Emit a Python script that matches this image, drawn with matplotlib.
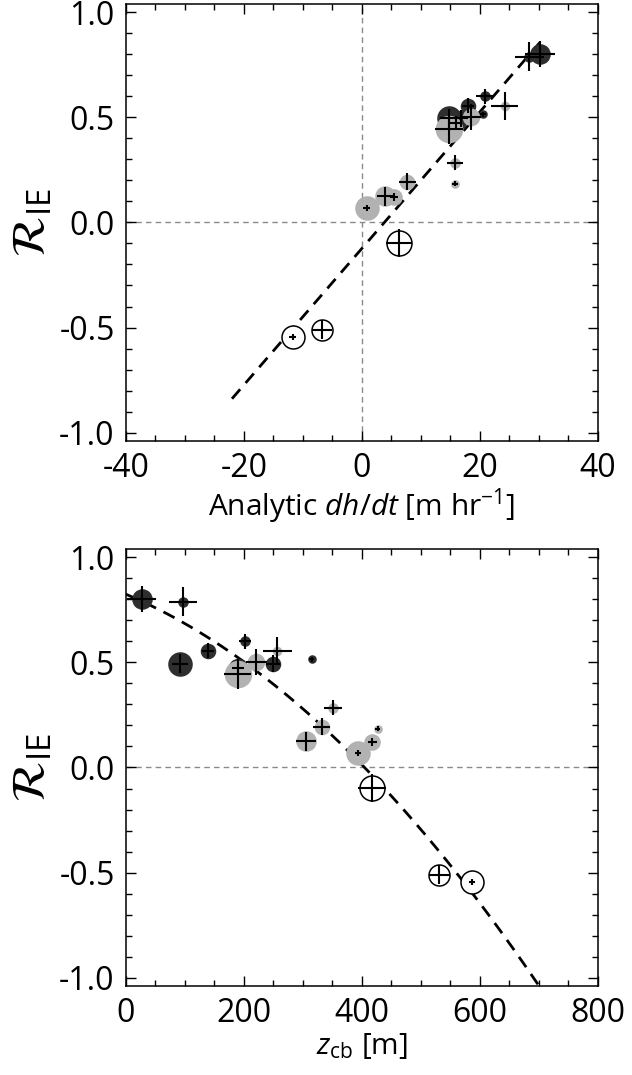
import numpy as np
import matplotlib.pyplot as plt
from matplotlib.ticker import MultipleLocator

plt.rcParams['font.family'] = ['Open Sans', 'DejaVu Sans']
plt.rcParams['mathtext.fontset'] = 'custom'
plt.rcParams['mathtext.rm'] = 'Open Sans'
plt.rcParams['mathtext.it'] = 'Open Sans:italic'
plt.rcParams['mathtext.bf'] = 'Open Sans:bold'
plt.rcParams['axes.unicode_minus'] = False

# one entry per case; group 0 = dark, 1 = grey, 2 = open
case_group = [0, 0, 0, 0, 0, 0, 0, 0,
              1, 1, 1, 1, 1, 1, 1, 1, 1,
              2, 2, 2]
r_ie = [0.80, 0.79, 0.60, 0.515, 0.555, 0.495, 0.495, 0.475,
        0.555, 0.50, 0.445, 0.285, 0.185, 0.195, 0.125, 0.12, 0.07,
        -0.097, -0.51, -0.545]
r_ie_err = [0.062, 0.067, 0.036, 0.012, 0.036, 0.046, 0.041, 0.031,
            0.067, 0.062, 0.07, 0.036, 0.012, 0.041, 0.046, 0.02, 0.015,
            0.067, 0.046, 0.015]
dhdt = [30.2, 28.4, 20.8, 20.5, 18.0, 14.7, 16.8, 16.0,
        24.2, 18.5, 14.8, 15.8, 15.8, 7.7, 4.0, 5.5, 0.8,
        6.3, -6.8, -11.7]
dhdt_err = [2.5, 2.5, 1.4, 0.5, 1.0, 1.5, 1.2, 1.0,
            2.3, 1.7, 2.4, 1.3, 0.5, 1.4, 1.5, 0.7, 0.6,
            2.2, 1.7, 0.6]
zcb = [27, 97, 202, 315, 139, 92, 250, 190,
       257, 221, 190, 351, 427, 332, 306, 418, 393,
       417, 531, 587]
zcb_err = [25, 24, 10, 4, 10, 14, 12, 10,
           25, 18, 23, 15, 4, 14, 17, 7, 5,
           24, 18, 5]

# fitted relations (polynomial coefficients, highest power first)
fit_dhdt = [0.0325, -0.124]
fit_dhdt_range = [-22, 31]
fit_zcb = [-2.11e-6, -1.185e-3, 0.825]
fit_zcb_range = [0, 720]

# marker diameters in pixels
marker_px = [19, 9, 9, 7, 14, 23, 14, 18,
             8, 16, 26, 9, 7, 14, 19, 15, 23,
             25, 21, 23]

face = {0: '#2e2e2e', 1: '#b2b2b2', 2: 'white'}
edge = {0: '#2e2e2e', 1: '#b2b2b2', 2: 'black'}

fig = plt.figure(figsize=(6.32, 10.75), dpi=100)
ax_top = fig.add_axes([0.199, 0.5898, 0.747, 0.4065])
ax_bot = fig.add_axes([0.199, 0.0828, 0.747, 0.4065])


def draw_panel(ax, xval, xerr, fit, fit_range):
    #zero lines
    ax.axhline(0, color='#8a8a8a', lw=1.0, dashes=(4, 3), zorder=1)
    #fit line
    xf = np.linspace(fit_range[0], fit_range[1], 200)
    ax.plot(xf, np.polyval(fit, xf), color='black', lw=2.0, dashes=(4.5, 3), zorder=2)
    #circles: dark first, then grey, then open
    for g in [0, 1, 2]:
        for i in range(len(r_ie)):
            if case_group[i] != g:
                continue
            ax.plot(xval[i], r_ie[i], 'o', ms=marker_px[i] * 0.72,
                    mfc=face[g], mec=edge[g], mew=1.1, zorder=3 + g)
    #error crosses on top
    ax.errorbar(xval, r_ie, xerr=xerr, yerr=r_ie_err, fmt='none',
                ecolor='black', elinewidth=1.5, capsize=0, zorder=10)
    ax.set_ylim(-1.04, 1.04)
    ax.yaxis.set_major_locator(MultipleLocator(0.5))
    ax.yaxis.set_minor_locator(MultipleLocator(0.1))
    ax.yaxis.set_major_formatter(plt.FuncFormatter(lambda v, p: '%.1f' % v))
    ax.tick_params(which='both', direction='in', top=True, right=True,
                   labelsize=23, width=1.0)
    ax.tick_params(which='major', length=7, pad=8)
    ax.tick_params(which='minor', length=4)
    for s in ax.spines.values():
        s.set_linewidth(1.1)
    ax.set_ylabel(r'$\mathcal{R}_{\mathregular{IE}}$', math_fontfamily='stix',
                  fontsize=34, labelpad=2)


#top panel: analytic growth rate
draw_panel(ax_top, dhdt, dhdt_err, fit_dhdt, fit_dhdt_range)
ax_top.axvline(0, color='#8a8a8a', lw=1.0, dashes=(4, 3), zorder=1)
ax_top.set_xlim(-40, 40)
ax_top.xaxis.set_major_locator(MultipleLocator(20))
ax_top.xaxis.set_minor_locator(MultipleLocator(5))
ax_top.set_xlabel(r'Analytic $dh/dt$ [m hr$^{\mathregular{-1}}$]', fontsize=21.5, labelpad=1)

#bottom panel: cloud base height
draw_panel(ax_bot, zcb, zcb_err, fit_zcb, fit_zcb_range)
ax_bot.set_xlim(0, 800)
ax_bot.xaxis.set_major_locator(MultipleLocator(200))
ax_bot.xaxis.set_minor_locator(MultipleLocator(50))
ax_bot.set_xlabel(r'$z_{\mathregular{cb}}$ [m]', fontsize=21.5, labelpad=1)

plt.savefig('out.png', dpi=100)
